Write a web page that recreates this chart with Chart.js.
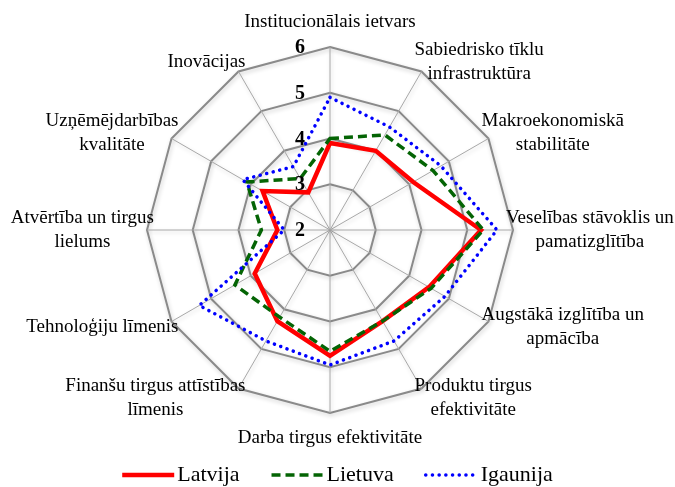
<!DOCTYPE html>
<html lang="lv">
<head>
<meta charset="utf-8">
<title>Konkurētspējas rādītāji</title>
<script src="https://cdn.jsdelivr.net/npm/chart.js@4.4.1/dist/chart.umd.min.js"></script>
<style>
  html, body { margin: 0; padding: 0; background: #fff; }
  #wrap { width: 675px; height: 487px; }
</style>
</head>
<body>
<div id="wrap"><canvas id="chart" width="675" height="487"></canvas></div>
<script>
// Axis categories (clockwise from the top)
const categories = [
  ['Institucionālais ietvars'],
  ['Sabiedrisko tīklu', 'infrastruktūra'],
  ['Makroekonomiskā', 'stabilitāte'],
  ['Veselības stāvoklis un', 'pamatizglītība'],
  ['Augstākā izglītība un', 'apmācība'],
  ['Produktu tirgus', 'efektivitāte'],
  ['Darba tirgus efektivitāte'],
  ['Finanšu tirgus attīstības', 'līmenis'],
  ['Tehnoloģiju līmenis'],
  ['Atvērtība un tirgus', 'lielums'],
  ['Uzņēmējdarbības', 'kvalitāte'],
  ['Inovācijas']
];

const latvija  = [3.9, 4.0, 4.1, 5.3, 4.5, 4.3, 4.75, 4.3, 3.9, 3.15, 3.7, 2.95];
const lietuva  = [4.0, 4.4, 4.6, 5.35, 4.55, 4.3, 4.65, 4.2, 4.4, 3.5, 4.1, 3.3];
const igaunija = [4.9, 4.6, 4.8, 5.65, 4.9, 4.8, 4.95, 4.8, 5.3, 3.0, 4.2, 3.6];

const tickValues = [2, 3, 4, 5, 6];

const SERIF = "'Liberation Serif', 'Times New Roman', serif";

// soft glow under the grid, like the Excel original
const gridShadow = {
  id: 'gridShadow',
  beforeDraw(chart) {
    const ctx = chart.ctx;
    ctx.save();
    ctx.shadowColor = 'rgba(0, 0, 0, 0.2)';
    ctx.shadowBlur = 4;
    ctx.shadowOffsetX = 1;
    ctx.shadowOffsetY = 2;
  },
  beforeDatasetsDraw(chart) {
    chart.ctx.restore();
  }
};

// Draws the category labels, tick numbers and the legend in the Excel style
const decorPlugin = {
  id: 'decor',
  afterDatasetsDraw(chart) {
    const ctx = chart.ctx;
    const scale = chart.scales.r;
    const R = scale.drawingArea;

    // category labels
    ctx.save();
    ctx.fillStyle = '#000';
    ctx.font = '19px ' + SERIF;
    ctx.textAlign = 'center';
    ctx.textBaseline = 'middle';
    const lh = 24;
    chart.data.labels.forEach((lines, i) => {
      const p = scale.getPointPosition(i, R);
      const a = scale.getIndexAngle(i);
      const s = Math.sin(a), c = Math.cos(a);
      const w = Math.max(...lines.map(t => ctx.measureText(t).width));
      const h = lines.length * lh;
      let cx, cy;
      if (Math.abs(s) < 0.01) {
        cx = p.x;
        cy = p.y - c * (h / 2 + 13);
      } else {
        cx = s > 0 ? p.x - 7 + w / 2 : p.x + 7 - w / 2;
        cy = p.y - c * 11;
      }
      lines.forEach((t, k) => ctx.fillText(t, cx, cy - h / 2 + lh * (k + 0.5)));
    });

    // tick numbers, left of the vertical axis
    ctx.font = 'bold 20px ' + SERIF;
    tickValues.forEach(v => {
      const d = scale.getDistanceFromCenterForValue(v);
      ctx.fillText(String(v), scale.xCenter - 30, scale.yCenter - d + 1);
    });

    // legend
    ctx.font = '22px ' + SERIF;
    ctx.textAlign = 'left';
    const sample = 52, gapText = 3, gapItem = 32;
    const sets = chart.data.datasets;
    const widths = sets.map(ds => ctx.measureText(ds.label).width);
    let total = 0;
    widths.forEach((tw, i) => { total += sample + gapText + tw + (i ? gapItem : 0); });
    let x = chart.width / 2 - total / 2;
    const y = 475;
    sets.forEach((ds, i) => {
      ctx.save();
      ctx.strokeStyle = ds.borderColor;
      ctx.lineWidth = ds.borderWidth;
      ctx.lineCap = ds.borderCapStyle || 'butt';
      ctx.setLineDash(ds.borderDash || []);
      ctx.beginPath();
      ctx.moveTo(x, y);
      ctx.lineTo(x + sample, y);
      ctx.stroke();
      ctx.restore();
      ctx.fillText(ds.label, x + sample + gapText, y);
      x += sample + gapText + widths[i] + gapItem;
    });
    ctx.restore();
  }
};

new Chart(document.getElementById('chart'), {
  type: 'radar',
  data: {
    labels: categories,
    datasets: [
      {
        label: 'Latvija',
        data: latvija,
        borderColor: '#ff0000',
        borderWidth: 4.5,
        borderJoinStyle: 'miter',
        fill: false,
        pointRadius: 0,
        order: 3
      },
      {
        label: 'Lietuva',
        data: lietuva,
        borderColor: '#046404',
        borderWidth: 3.5,
        borderDash: [9, 5],
        borderJoinStyle: 'miter',
        fill: false,
        pointRadius: 0,
        order: 2
      },
      {
        label: 'Igaunija',
        data: igaunija,
        borderColor: '#0000ff',
        borderWidth: 3.5,
        borderDash: [0.1, 6.6],
        borderCapStyle: 'round',
        fill: false,
        pointRadius: 0,
        order: 1
      }
    ]
  },
  options: {
    responsive: false,
    animation: false,
    devicePixelRatio: 1,
    layout: { padding: { left: 147, right: 162, top: 47, bottom: 74 } },
    plugins: {
      legend: { display: false },
      tooltip: { enabled: false }
    },
    scales: {
      r: {
        min: 2,
        max: 6,
        ticks: { stepSize: 1, display: false },
        pointLabels: { display: false },
        grid: { color: '#8a8a8a', lineWidth: 2 },
        angleLines: { color: '#a8a8a8', lineWidth: 1 }
      }
    }
  },
  plugins: [gridShadow, decorPlugin]
});
</script>
</body>
</html>
